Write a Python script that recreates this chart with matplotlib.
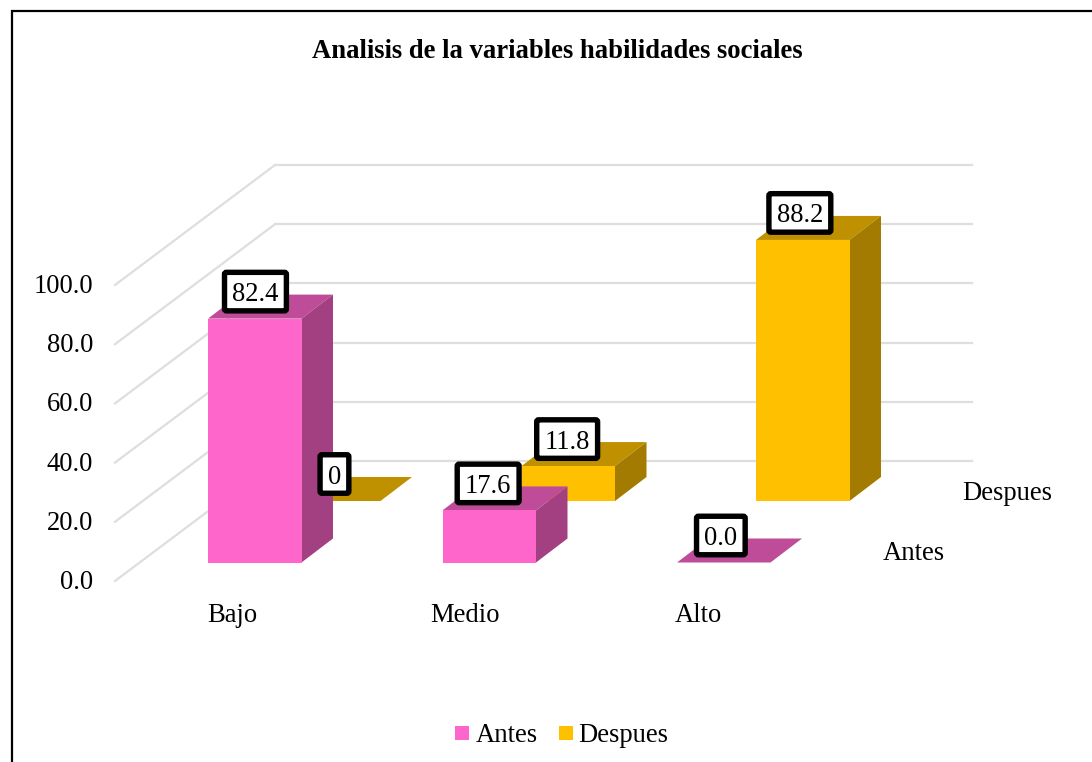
import matplotlib.pyplot as plt
from matplotlib.patches import FancyBboxPatch, Rectangle

plt.rcParams["font.family"] = ["Liberation Serif", "DejaVu Serif"]

# datos
categories = ["Bajo", "Medio", "Alto"]
antes = [82.4, 17.6, 0.0]
despues = [0, 11.8, 88.2]
antes_labels = ["82.4", "17.6", "0.0"]
despues_labels = ["0", "11.8", "88.2"]
y_ticks = [0, 20, 40, 60, 80, 100]
y_tick_labels = ["0.0", "20.0", "40.0", "60.0", "80.0", "100.0"]
depth_labels = ["Antes", "Despues"]

# geometria de la falsa perspectiva, en pixeles de la imagen
PX_PER_UNIT = 2.96
FLOOR_FRONT_Y = 581
FLOOR_FRONT_X = 115
DEPTH_X, DEPTH_Y = 160, 120
BAR_W = 93.5
BAR_DX, BAR_DY = 31.5, 24
CAT_X0, CAT_STEP = 208, 234.5
ROW_DX, ROW_DY = 79, 61.5
BASE_Y = 562.5
FS = 19.2

COLORS = {
    "antes": ("#FF66CC", "#BF4C99", "#A34082"),
    "despues": ("#FFC000", "#BF9000", "#A37B00"),
}

fig = plt.figure(figsize=(10.92, 7.62), dpi=100)
ax = fig.add_axes([0, 0, 1, 1])
ax.set_xlim(0, 1092)
ax.set_ylim(762, 0)
ax.axis("off")
renderer = fig.canvas.get_renderer()

# marco exterior, solo arriba y a la izquierda
ax.add_patch(Rectangle((12, 11), 1200, 900, fc="white", ec="black", lw=1.6, zorder=0))

# paredes y rejilla
for t in y_ticks:
    y_front = FLOOR_FRONT_Y - t * PX_PER_UNIT
    x_back = FLOOR_FRONT_X + DEPTH_X
    y_back = y_front - DEPTH_Y
    ax.plot([FLOOR_FRONT_X, x_back], [y_front, y_back], color="#DEDEDE", lw=1.6, zorder=1)
    ax.plot([x_back, 972], [y_back, y_back], color="#DEDEDE", lw=1.6, zorder=1)

for t, lab in zip(y_ticks, y_tick_labels):
    ax.text(93, FLOOR_FRONT_Y + 1.5 - t * PX_PER_UNIT, lab, ha="right", va="center", fontsize=FS)


def draw_bar(i, row, value, label, colors, z):
    x0 = CAT_X0 + i * CAT_STEP + row * ROW_DX
    y0 = BASE_Y - row * ROW_DY
    top = y0 - value * PX_PER_UNIT
    x1 = x0 + BAR_W
    front, roof, side = colors
    ax.fill([x0, x1, x1 + BAR_DX, x0 + BAR_DX], [top, top, top - BAR_DY, top - BAR_DY],
            color=roof, lw=0, zorder=z)
    if value > 0:
        ax.fill([x1, x1 + BAR_DX, x1 + BAR_DX, x1], [y0, y0 - BAR_DY, top - BAR_DY, top],
                color=side, lw=0, zorder=z)
        ax.fill([x0, x1, x1, x0], [y0, y0, top, top], color=front, lw=0, zorder=z)

    # la caja se dibuja aparte para centrarla sobre los digitos
    xc = (x0 + x1) / 2 + 0.7 - 1.8 * i
    yc = top - 27
    txt = ax.text(xc, yc, label, ha="center", va="center_baseline", fontsize=FS, zorder=11)
    w = txt.get_window_extent(renderer).width + 15.5
    h = 38.5
    ax.add_patch(FancyBboxPatch((xc - w / 2, yc - h / 2), w, h, boxstyle="round,pad=0,rounding_size=2",
                                fc="white", ec="black", lw=3.9, zorder=10))


for i in range(len(categories)):
    draw_bar(i, 1, despues[i], despues_labels[i], COLORS["despues"], 2)
for i in range(len(categories)):
    draw_bar(i, 0, antes[i], antes_labels[i], COLORS["antes"], 3)

# etiquetas de categoria y de profundidad
for x, cat in zip([232, 465, 698], categories):
    ax.text(x, 615, cat, ha="center", va="center", fontsize=FS)
ax.text(883, 554, depth_labels[0], ha="left", va="center", fontsize=FS)
ax.text(962, 494, depth_labels[1], ha="left", va="center", fontsize=FS)

ax.text(557, 52, "Analisis de la variables habilidades sociales", ha="center", va="center",
        fontsize=FS, fontweight="bold")

# leyenda
ax.add_patch(Rectangle((455, 726), 14, 14, fc=COLORS["antes"][0], lw=0))
ax.text(476, 735, "Antes", ha="left", va="center", fontsize=FS)
ax.add_patch(Rectangle((559, 726), 14, 14, fc=COLORS["despues"][0], lw=0))
ax.text(578, 735, "Despues", ha="left", va="center", fontsize=FS)

fig.savefig("out.png", dpi=100)
